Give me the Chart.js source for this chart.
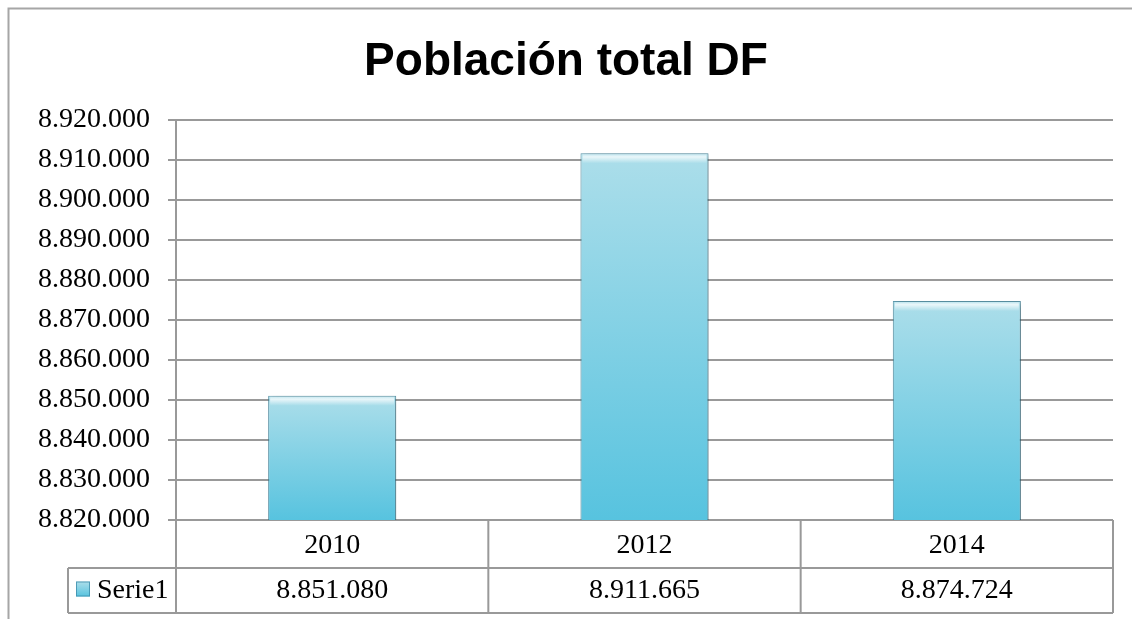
<!DOCTYPE html>
<html>
<head>
<meta charset="utf-8">
<script src="https://cdn.jsdelivr.net/npm/chart.js@4.4.1/dist/chart.umd.min.js"></script>
<style>
    html, body { margin: 0; padding: 0; background: #fff; }
    #wrap { width: 1132px; height: 619px; position: relative; }
</style>
</head>
<body>
<div id="wrap"><canvas id="chart"></canvas></div>
<script>
// ---------------------------------------------------------------------------
// Data
// ---------------------------------------------------------------------------

const categories = ['2010', '2012', '2014'];
const seriesName = 'Serie1';
const population = [8851080, 8911665, 8874724];
const yMin = 8820000;
const yMax = 8920000;
const yStep = 10000;

// ---------------------------------------------------------------------------
// Helpers
// ---------------------------------------------------------------------------

const serif = "'Liberation Serif', 'Times New Roman', serif";
const lineGrey = '#999999';

function thousands(v) {
    return String(Math.round(v)).replace(/\B(?=(\d{3})+(?!\d))/g, '.');
}

function barGradient(ctx, top, bottom) {
    const g = ctx.createLinearGradient(0, top, 0, bottom);
    g.addColorStop(0, '#acdeea');
    g.addColorStop(1, '#57c3df');
    return g;
}

// outer frame, bar shading and the data table under the axis
const tablePlugin = {
    id: 'dataTable',
    beforeDraw(chart) {
        const ctx = chart.ctx;
        ctx.save();
        ctx.strokeStyle = '#a6a6a6';
        ctx.lineWidth = 2;
        ctx.strokeRect(8.5, 8.5, chart.width + 20, chart.height + 20);
        ctx.restore();
    },
    beforeDatasetsDraw(chart) {
        const ctx = chart.ctx;
        ctx.save();
        ctx.shadowColor = 'rgba(0, 0, 0, 0.35)';
        ctx.shadowBlur = 7;
        ctx.shadowOffsetX = 3;
        ctx.shadowOffsetY = 2;
    },
    afterDatasetsDraw(chart) {
        const ctx = chart.ctx;
        ctx.restore();
        // top bevel highlight
        chart.getDatasetMeta(0).data.forEach(bar => {
            const left = bar.x - bar.width / 2;
            const g = ctx.createLinearGradient(0, bar.y, 0, bar.y + 10);
            g.addColorStop(0, 'rgba(255, 255, 255, 0.15)');
            g.addColorStop(0.35, 'rgba(255, 255, 255, 0.75)');
            g.addColorStop(1, 'rgba(255, 255, 255, 0)');
            ctx.save();
            ctx.fillStyle = g;
            ctx.fillRect(left + 2, bar.y + 1, bar.width - 4, 10);
            ctx.restore();
        });
    },
    afterDraw(chart) {
        const ctx = chart.ctx;
        const x = chart.scales.x;
        const area = chart.chartArea;
        const step = x.getPixelForValue(1) - x.getPixelForValue(0);
        const row1Bottom = area.bottom + 48;
        const row2Bottom = row1Bottom + 45;
        const legendLeft = area.left - 108;

        ctx.save();
        ctx.strokeStyle = lineGrey;
        ctx.lineWidth = 2;
        ctx.beginPath();
        ctx.moveTo(legendLeft, row1Bottom);
        ctx.lineTo(area.right, row1Bottom);
        ctx.moveTo(legendLeft, row2Bottom);
        ctx.lineTo(area.right, row2Bottom);
        ctx.moveTo(legendLeft, row1Bottom);
        ctx.lineTo(legendLeft, row2Bottom);
        categories.forEach((c, i) => {
            const bx = x.getPixelForValue(i) - step / 2;
            ctx.moveTo(bx, area.bottom);
            ctx.lineTo(bx, row2Bottom);
        });
        ctx.moveTo(area.right, area.bottom);
        ctx.lineTo(area.right, row2Bottom);
        ctx.stroke();

        // values row
        ctx.fillStyle = '#000';
        ctx.font = '28px ' + serif;
        ctx.textAlign = 'center';
        ctx.textBaseline = 'middle';
        const midY = (row1Bottom + row2Bottom) / 2;
        population.forEach((v, i) => {
            ctx.fillText(thousands(v), x.getPixelForValue(i), midY);
        });

        // legend key
        const keyX = legendLeft + 8;
        const keyY = midY - 9;
        ctx.fillStyle = barGradient(ctx, keyY, keyY + 15);
        ctx.fillRect(keyX, keyY, 14, 15);
        ctx.strokeStyle = 'rgba(60, 140, 170, 0.8)';
        ctx.lineWidth = 1;
        ctx.strokeRect(keyX + 0.5, keyY + 0.5, 13, 14);
        ctx.fillStyle = '#000';
        ctx.textAlign = 'left';
        ctx.fillText(seriesName, keyX + 21, midY);
        ctx.restore();
    }
};

// ---------------------------------------------------------------------------
// Chart
// ---------------------------------------------------------------------------

Chart.defaults.animation = false;
Chart.defaults.font.family = serif;

new Chart(document.getElementById('chart'), {
    type: 'bar',
    data: {
        labels: categories,
        datasets: [{
            label: seriesName,
            data: population,
            backgroundColor(context) {
                const chart = context.chart;
                if (!chart.chartArea || context.dataIndex === undefined) return '#7fd0e4';
                const top = chart.scales.y.getPixelForValue(population[context.dataIndex]);
                return barGradient(chart.ctx, top, chart.chartArea.bottom);
            },
            borderColor: 'rgba(56, 130, 155, 0.8)',
            borderWidth: 1,
            barPercentage: 0.41,
            categoryPercentage: 1
        }]
    },
    options: {
        responsive: true,
        maintainAspectRatio: false,
        layout: { padding: { left: 19, right: 19, top: 0, bottom: 0 } },
        plugins: {
            legend: { display: false },
            tooltip: { enabled: false },
            title: {
                display: true,
                text: 'Población total DF',
                color: '#000',
                font: { family: "'Liberation Sans', Arial, sans-serif", size: 46, weight: 'bold', lineHeight: 1.2 },
                padding: { top: 35, bottom: 29.8 }
            }
        },
        scales: {
            x: {
                afterFit(scale) { scale.height = 99; },
                grid: { display: false, drawTicks: false },
                border: { display: false },
                ticks: { color: '#000', font: { size: 28 }, padding: 9 }
            },
            y: {
                min: yMin,
                max: yMax,
                afterFit(scale) { scale.width = 157; },
                grid: { color: lineGrey, lineWidth: 2, tickLength: 8 },
                border: { display: true, color: lineGrey, width: 2 },
                ticks: {
                    stepSize: yStep,
                    color: '#000',
                    font: { size: 28 },
                    padding: 18,
                    callback: v => thousands(v)
                }
            }
        }
    },
    plugins: [tablePlugin]
});
</script>
</body>
</html>
